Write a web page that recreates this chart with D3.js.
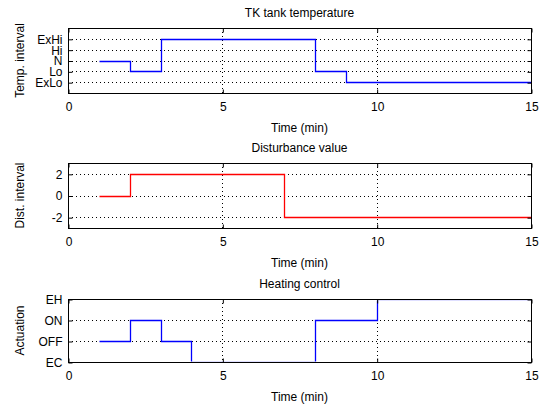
<!DOCTYPE html>
<html><head><meta charset="utf-8">
<script src="https://cdn.jsdelivr.net/npm/d3@7"></script>
<style>
body{margin:0;background:#fff;}
text{font-family:"Liberation Sans",Arial,sans-serif;font-size:12px;fill:#000;}
</style></head>
<body><svg id="c" width="547" height="408"></svg>
<script>
// ---- data ----
const times = [1,2,3,4,5,6,7,8,9,10,11,12,13,14,15];
const tempValues = [3,2,5,5,5,5,5,2,1,1,1,1,1,1,1];          // 1=ExLo .. 5=ExHi
const tempTickLabels = ["ExLo","Lo","N","Hi","ExHi"];
const distValues = [0,2,2,2,2,2,-2,-2,-2,-2,-2,-2,-2,-2,-2];
const distTickValues = [-2,0,2];
const heatValues = [1,2,1,0,0,0,0,2,2,3,3,3,3,3,3];          // 0=EC,1=OFF,2=ON,3=EH
const heatTickLabels = ["EC","OFF","ON","EH"];
const xTickValues = [0,5,10,15];
const titles = ["TK tank temperature","Disturbance value","Heating control"];
const yLabels = ["Temp. interval","Dist. interval","Actuation"];
const xLabel = "Time (min)";

const svg = d3.select("#c");
const L = 68, R = 531;
const x = d3.scaleLinear().domain([0,15]).range([L,R]);

const panels = [
  {top:28, bottom:93, domain:[0,6], ticks:[1,2,3,4,5], fmt:(d)=>tempTickLabels[d-1], vals:tempValues, color:"#0000ff", fs:11},
  {top:163, bottom:228, domain:[-3,3], ticks:distTickValues, fmt:(d)=>String(d), vals:distValues, color:"#ff0000", fs:12},
  {top:299, bottom:362, domain:[0,3], ticks:[0,1,2,3], fmt:(d)=>heatTickLabels[d], vals:heatValues, color:"#0000ff", fs:12}
];

panels.forEach((p,i)=>{
  const y = d3.scaleLinear().domain(p.domain).range([p.bottom,p.top]);
  const g = svg.append("g");
  svg.append("clipPath").attr("id","clip"+i).append("rect")
    .attr("x",L+1).attr("y",p.top+1.5).attr("width",R-L-1).attr("height",p.bottom-p.top-2);
  // grid
  g.selectAll("line.gy").data(p.ticks.filter(t=>y(t)>p.top+0.5 && y(t)<p.bottom-0.5)).join("line")
    .attr("x1",L).attr("x2",R).attr("y1",d=>Math.round(y(d))+0.5).attr("y2",d=>Math.round(y(d))+0.5)
    .attr("stroke","#000").attr("stroke-width",1).attr("stroke-dasharray","1,3");
  g.selectAll("line.gx").data(xTickValues.filter(t=>t>0&&t<15)).join("line")
    .attr("x1",d=>Math.round(x(d))+0.5).attr("x2",d=>Math.round(x(d))+0.5).attr("y1",p.top).attr("y2",p.bottom)
    .attr("stroke","#000").attr("stroke-width",1).attr("stroke-dasharray","1,3");
  // data line
  const line = d3.line().x((d,j)=>Math.round(x(times[j]))+0.5).y(d=>Math.round(y(d))+0.5).curve(d3.curveStepAfter);
  g.append("g").attr("clip-path",`url(#clip${i})`).append("path").datum(p.vals).attr("d",line)
    .attr("fill","none").attr("stroke",p.color).attr("stroke-width",1.3);
  // box
  g.append("rect").attr("x",L+0.5).attr("y",p.top+0.5).attr("width",R-L).attr("height",p.bottom-p.top)
    .attr("fill","none").attr("stroke","#000").attr("stroke-width",1);
  // axes (ticks inside)
  const yAxisL = d3.axisLeft(y).tickValues(p.ticks).tickFormat(p.fmt).tickSizeInner(-4).tickSizeOuter(0).tickPadding(6);
  const gl = g.append("g").attr("transform",`translate(${L+0.5},0.5)`).call(yAxisL);
  const yAxisR = d3.axisRight(y).tickValues(p.ticks).tickFormat("").tickSizeInner(-4).tickSizeOuter(0);
  const gr = g.append("g").attr("transform",`translate(${R+0.5},0.5)`).call(yAxisR);
  const xAxisB = d3.axisBottom(x).tickValues(xTickValues).tickSizeInner(-4).tickSizeOuter(0).tickPadding(9);
  const gb = g.append("g").attr("transform",`translate(0.5,${p.bottom+0.5})`).call(xAxisB);
  const xAxisT = d3.axisTop(x).tickValues(xTickValues).tickFormat("").tickSizeInner(-4).tickSizeOuter(0);
  const gt = g.append("g").attr("transform",`translate(0.5,${p.top+0.5})`).call(xAxisT);
  [gl,gr,gb,gt].forEach(a=>{
    a.select(".domain").remove();
    a.selectAll(".tick line").attr("stroke","#000");
    a.selectAll("text").attr("font-family","Liberation Sans, Arial, sans-serif").attr("font-size",12).attr("fill","#000");
  });
  gl.selectAll("text").attr("font-size",p.fs);
  // title
  g.append("text").attr("x",(L+R)/2).attr("y",p.top-11).attr("text-anchor","middle").text(titles[i]);
  // x label
  g.append("text").attr("x",(L+R)/2).attr("y",p.bottom+39).attr("text-anchor","middle").text(xLabel);
  // y label
  g.append("text").attr("transform",`translate(${24},${(p.top+p.bottom)/2}) rotate(-90)`)
    .attr("text-anchor","middle").text(yLabels[i]);
});
</script></body></html>
